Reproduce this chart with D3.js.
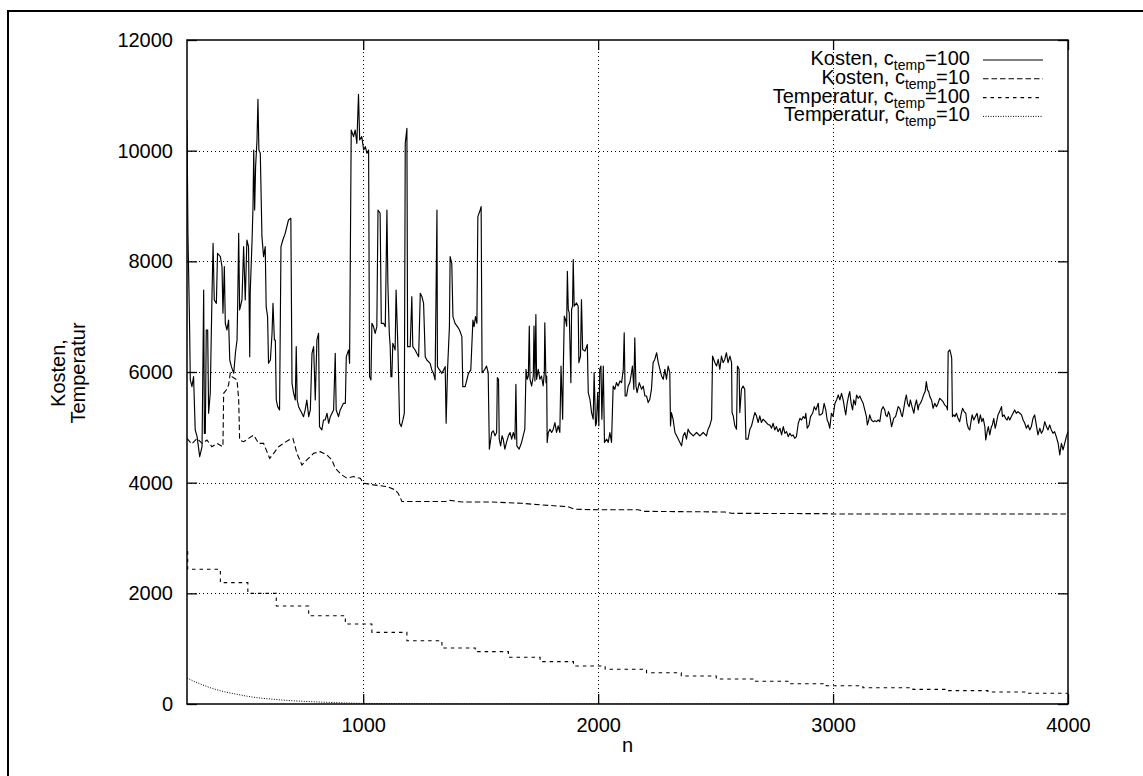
<!DOCTYPE html>
<html>
<head>
<meta charset="utf-8">
<script src="https://cdn.jsdelivr.net/npm/d3@7"></script>
<style>
  html, body { margin: 0; padding: 0; background: #fff; }
  svg { display: block; font-family: "Liberation Sans", Arial, Helvetica, sans-serif; }
</style>
</head>
<body>
<svg id="chart" width="1143" height="776"></svg>
<script>
// Kosten (cost) per iteration n, c_temp = 100  — [n, value]
const kostenC100 = [
  [250,10555],[254,8506],[257,7783],[261,6820],[264,5856],[271,5735],[278,5916],[285,4952],[293,4832],[304,4470],
  [314,4651],[321,7482],[324,4892],[328,4892],[332,6759],[338,6759],[342,5254],[349,5615],[356,7302],[361,8326],
  [366,7302],[375,7241],[380,8145],[392,8085],[399,7904],[403,7061],[409,7904],[413,6880],[420,6759],[427,6940],
  [432,6217],[439,6097],[449,5976],[456,6338],[463,6579],[466,7302],[470,8506],[474,7121],[484,7302],[491,8265],
  [498,7302],[505,8386],[512,8265],[517,6277],[519,7422],[527,8386],[531,8988],[534,10012],[538,8928],[542,9711],
  [548,10193],[552,10930],[556,10012],[562,9952],[569,8446],[576,8085],[583,8265],[587,7181],[593,7000],[597,6157],
  [605,6217],[612,6699],[616,7241],[622,6579],[626,6579],[630,5494],[636,5374],[644,5314],[650,8265],[658,8386],
  [668,8506],[682,8747],[692,8777],[697,5796],[704,5615],[711,5494],[715,6458],[719,5494],[725,5374],[739,5254],
  [746,5193],[753,5314],[760,5494],[768,5193],[775,5314],[782,6338],[789,6458],[796,5494],[803,6579],[810,6699],
  [814,5013],[824,4952],[831,5133],[838,5133],[846,5254],[853,5073],[860,5193],[867,5254],[874,5314],[881,6338],
  [885,5314],[895,5193],[902,5314],[909,5374],[916,5434],[924,5434],[928,6277],[938,6398],[942,6157],[949,10374],
  [959,10253],[966,10374],[973,10133],[980,11020],[985,10193],[994,10253],[1002,10012],[1009,10073],[1016,9952],[1023,10012],
  [1027,5916],[1033,5856],[1037,6880],[1044,6820],[1051,6699],[1058,6820],[1063,8928],[1072,8868],[1077,6880],[1087,6880],
  [1094,6820],[1101,8928],[1105,7603],[1111,6699],[1115,6458],[1118,5916],[1122,5916],[1126,6519],[1136,6398],[1140,7482],
  [1148,6398],[1155,5073],[1162,5013],[1169,5133],[1175,5254],[1179,10133],[1186,10404],[1189,6458],[1200,6458],[1207,7362],
  [1211,6458],[1221,6398],[1228,6338],[1236,6277],[1243,7422],[1250,7362],[1257,7241],[1264,6277],[1271,6217],[1285,6157],
  [1292,6037],[1299,5976],[1306,5856],[1314,8928],[1316,6097],[1325,6037],[1335,5976],[1342,6037],[1349,6097],[1353,5073],
  [1359,6037],[1367,6820],[1370,8085],[1377,7964],[1382,7000],[1391,6880],[1401,6820],[1410,6759],[1420,6639],[1424,5735],
  [1434,5735],[1448,5976],[1458,6037],[1467,6940],[1472,6820],[1478,7000],[1484,6880],[1488,8808],[1498,8928],[1502,8988],
  [1506,5988],[1518,6048],[1525,6108],[1532,5988],[1537,4606],[1547,4907],[1554,4937],[1561,4847],[1568,4907],[1571,5898],
  [1576,5868],[1579,4787],[1585,4666],[1591,4847],[1596,4787],[1603,4606],[1610,4727],[1618,4847],[1625,4907],[1632,4787],
  [1639,4907],[1646,4787],[1650,5778],[1654,4666],[1664,4606],[1674,4727],[1681,4847],[1688,4967],[1693,6048],[1698,5868],
  [1703,5928],[1707,6829],[1710,5868],[1717,5747],[1724,5928],[1727,6829],[1731,5838],[1735,7039],[1738,5868],[1745,6048],
  [1752,5868],[1759,5928],[1766,5747],[1771,5988],[1773,6889],[1778,5808],[1781,5928],[1783,4727],[1788,4907],[1795,4967],
  [1802,4907],[1809,4967],[1816,5087],[1823,4907],[1830,5027],[1837,4907],[1842,6108],[1849,5147],[1852,6108],[1856,7009],
  [1861,6949],[1866,6829],[1869,7820],[1873,7129],[1877,7069],[1883,5988],[1884,5808],[1887,7129],[1891,7189],[1894,8031],
  [1898,7189],[1908,7249],[1915,7189],[1918,6168],[1925,6288],[1929,7309],[1934,6408],[1944,6378],[1954,6498],[1958,5627],
  [1965,5507],[1972,5267],[1979,5147],[1983,5988],[1989,5027],[1993,5087],[1998,5627],[2003,5027],[2007,6048],[2012,6108],
  [2016,5147],[2022,6108],[2027,4727],[2036,4787],[2043,4727],[2050,4907],[2057,4727],[2064,5747],[2071,5687],[2078,5808],
  [2085,5747],[2093,5838],[2100,5808],[2107,6048],[2111,6709],[2115,5567],[2121,5567],[2128,5747],[2135,5808],[2142,5988],
  [2146,6108],[2152,5687],[2156,6618],[2161,5747],[2166,5627],[2175,5808],[2185,5687],[2192,5747],[2199,5567],[2206,5567],
  [2213,5447],[2220,5507],[2227,5687],[2234,6168],[2241,6228],[2249,6348],[2256,6168],[2263,6048],[2270,5928],[2277,5868],
  [2284,6048],[2291,5868],[2298,6108],[2305,5988],[2308,5027],[2312,5267],[2319,5147],[2327,4907],[2334,4847],[2341,4787],
  [2348,4727],[2355,4666],[2362,4847],[2369,4907],[2376,4787],[2383,4967],[2390,4907],[2405,4847],[2419,4907],[2433,4847],
  [2447,4907],[2461,4847],[2468,4967],[2475,5027],[2483,5147],[2487,6288],[2497,6168],[2504,6108],[2511,6228],[2518,6048],
  [2525,6288],[2532,6168],[2539,6228],[2546,6348],[2553,6168],[2561,6288],[2568,6168],[2570,5267],[2575,5207],[2582,5027],
  [2589,4967],[2593,6108],[2600,6048],[2603,5267],[2610,5687],[2617,5747],[2624,5687],[2629,4787],[2638,4787],[2646,4967],
  [2653,5027],[2660,5147],[2667,5267],[2674,5207],[2681,5087],[2688,5207],[2695,5087],[2702,5147],[2716,5087],[2724,5050],
  [2731,5043],[2738,4983],[2745,5073],[2752,4953],[2759,5013],[2766,4923],[2774,4983],[2781,4862],[2788,5013],[2795,4892],
  [2802,4923],[2809,4832],[2816,4892],[2823,4844],[2830,4862],[2837,4802],[2844,4832],[2852,5073],[2859,5163],[2866,5133],
  [2873,5194],[2880,5163],[2884,5254],[2890,4983],[2898,5043],[2904,5194],[2913,5254],[2920,5374],[2927,5314],[2937,5435],
  [2941,5224],[2947,5224],[2955,5254],[2962,5435],[2969,5314],[2975,5133],[2981,5073],[2986,4983],[2993,5254],[3000,5194],
  [3008,5435],[3015,5495],[3022,5585],[3029,5495],[3036,5615],[3043,5495],[3050,5314],[3054,5224],[3060,5435],[3067,5585],
  [3071,5645],[3077,5435],[3083,5314],[3088,5495],[3095,5405],[3100,5585],[3107,5525],[3114,5567],[3121,5495],[3128,5435],
  [3135,5314],[3142,5194],[3146,5043],[3152,5133],[3156,5224],[3163,5133],[3171,5103],[3178,5121],[3185,5103],[3192,5133],
  [3199,5103],[3206,5314],[3213,5374],[3220,5314],[3224,5224],[3230,5194],[3236,5284],[3241,5224],[3249,5013],[3253,5073],
  [3258,5163],[3266,5194],[3270,5254],[3277,5374],[3284,5344],[3291,5224],[3295,5194],[3301,5344],[3307,5495],[3312,5585],
  [3317,5435],[3324,5374],[3329,5495],[3336,5374],[3344,5254],[3348,5374],[3355,5495],[3362,5314],[3366,5405],[3372,5435],
  [3378,5495],[3383,5555],[3388,5615],[3392,5645],[3397,5826],[3402,5676],[3407,5645],[3412,5555],[3419,5495],[3426,5344],
  [3433,5435],[3440,5374],[3447,5435],[3454,5525],[3461,5495],[3468,5465],[3475,5405],[3483,5374],[3487,5314],[3490,6368],
  [3497,6398],[3501,6338],[3505,6248],[3508,5194],[3514,5224],[3519,5194],[3525,5254],[3532,5163],[3539,5103],[3546,5254],
  [3551,5344],[3558,5284],[3565,5254],[3570,5073],[3576,4983],[3582,4953],[3586,5073],[3592,5224],[3599,5133],[3606,5194],
  [3613,5254],[3620,5073],[3627,5224],[3633,5103],[3639,5163],[3646,5013],[3650,4772],[3656,4923],[3661,5013],[3667,4862],
  [3674,5013],[3678,5043],[3684,5163],[3690,4983],[3695,5073],[3702,5224],[3709,5284],[3717,5374],[3721,5194],[3728,5224],
  [3734,5163],[3741,5133],[3746,5194],[3752,5133],[3759,5194],[3766,5254],[3773,5314],[3780,5254],[3787,5284],[3795,5254],
  [3802,5224],[3809,5133],[3816,5073],[3823,4983],[3830,5043],[3837,4953],[3844,5013],[3851,5163],[3858,5224],[3865,5043],
  [3872,4862],[3880,4983],[3887,4892],[3894,4953],[3901,5103],[3908,5013],[3915,4953],[3922,5043],[3929,4953],[3936,4892],
  [3943,4923],[3950,4832],[3958,4712],[3965,4501],[3972,4712],[3979,4591],[3986,4712],[3993,4832],[4000,4923]
];

// Kosten, c_temp = 10
const kostenC10 = [
  [250,4800],[270,4700],[293,4800],[314,4710],[335,4770],[356,4650],[378,4710],[403,4650],[406,5615],[417,5675],
  [427,5765],[434,5975],[441,5915],[463,5855],[470,5500],[474,4770],[491,4740],[512,4800],[534,4860],[555,4710],
  [576,4710],[602,4440],[619,4530],[640,4650],[661,4710],[683,4770],[701,4800],[718,4530],[739,4320],[760,4410],
  [789,4530],[817,4560],[846,4500],[867,4410],[881,4260],[909,4140],[931,4080],[959,4110],[987,4080],[1002,3990],
  [1044,3960],[1101,3930],[1136,3870],[1150,3800],[1165,3660],[1352,3660],[1370,3680],[1420,3650],[1550,3650],[1675,3627],
  [1760,3597],[1870,3567],[1901,3520],[2000,3510],[2170,3510],[2197,3482],[2540,3470],[2567,3446],[2960,3440],[3003,3434],
  [4000,3434]
];

// Temperatur, c_temp = 100 (held constant between cooling steps)
const tempC100 = [
  [250,2750],[253,2434],[392,2193],[509,2000],[630,1771],[768,1596],[924,1446],[1037,1295],[1186,1144],[1335,1012],
  [1477,946],[1618,844],[1753,765],[1895,687],[2030,627],[2206,566],[2354,506],[2503,452],[2659,410],[2815,367],
  [2971,331],[3127,295],[3340,265],[3489,241],[3659,217],[3829,193],[4000,193]
];

// Temperatur, c_temp = 10
const tempC10 = [
  [250,470],[293,385],[335,315],[392,240],[463,175],[534,122],[619,85],[704,58],[817,35],[930,18],
  [1050,8],[1300,2],[1600,0],[4000,0]
];

const xTickValues = [1000, 2000, 3000, 4000];
const yTickValues = [0, 2000, 4000, 6000, 8000, 10000, 12000];
const xGridValues = [1000, 2000, 3000];
const yGridValues = [2000, 4000, 6000, 8000, 10000];
const xLabel = "n";
const yLabelLines = ["Kosten,", "Temperatur"];
const legendItems = [
  { pre: "Kosten, c",     sub: "temp", post: "=100" },
  { pre: "Kosten, c",     sub: "temp", post: "=10" },
  { pre: "Temperatur, c", sub: "temp", post: "=100" },
  { pre: "Temperatur, c", sub: "temp", post: "=10" }
];

// ---- layout ----
const plot = { left: 187, right: 1068, top: 40, bottom: 704 };
const svg = d3.select("#chart");

const x = d3.scaleLinear().domain([250, 4000]).range([plot.left, plot.right]);
const y = d3.scaleLinear().domain([0, 12000]).range([plot.bottom, plot.top]);

// page frame
svg.append("rect")
  .attr("x", 8).attr("y", 11).attr("width", 1200).attr("height", 900)
  .attr("fill", "none").attr("stroke", "#000").attr("stroke-width", 2);

// dotted grid
const grid = svg.append("g")
  .attr("stroke", "#000").attr("stroke-width", 1)
  .attr("stroke-dasharray", "1,3").attr("shape-rendering", "crispEdges");
grid.selectAll("line.gx").data(xGridValues).join("line")
  .attr("x1", d => Math.round(x(d)) + 0.5).attr("x2", d => Math.round(x(d)) + 0.5)
  .attr("y1", plot.top).attr("y2", plot.bottom);
grid.selectAll("line.gy").data(yGridValues).join("line")
  .attr("y1", d => Math.round(y(d)) + 0.5).attr("y2", d => Math.round(y(d)) + 0.5)
  .attr("x1", plot.left).attr("x2", plot.right);

// axes with inward ticks on all four sides
const tickLen = 10;
const fontSize = 20;

const gLeft = svg.append("g").attr("transform", `translate(${plot.left},0)`)
  .call(d3.axisLeft(y).tickValues(yTickValues).tickSize(-tickLen).tickPadding(14).tickFormat(d3.format("d")));
const gBottom = svg.append("g").attr("transform", `translate(0,${plot.bottom})`)
  .call(d3.axisBottom(x).tickValues(xTickValues).tickSize(-tickLen).tickPadding(14).tickFormat(d3.format("d")));
const gRight = svg.append("g").attr("transform", `translate(${plot.right},0)`)
  .call(d3.axisRight(y).tickValues(yTickValues).tickSize(-tickLen).tickFormat(""));
const gTop = svg.append("g").attr("transform", `translate(0,${plot.top})`)
  .call(d3.axisTop(x).tickValues(xTickValues).tickSize(-tickLen).tickFormat(""));

[gLeft, gBottom, gRight, gTop].forEach(g => {
  g.select(".domain").remove();
  g.selectAll(".tick line").attr("stroke", "#000").attr("stroke-width", 1.3);
  g.selectAll(".tick text").attr("fill", "#000")
    .style("font-family", '"Liberation Sans", Arial, sans-serif').style("font-size", fontSize + "px");
});

// data lines
svg.append("clipPath").attr("id", "plotClip").append("rect")
  .attr("x", plot.left).attr("y", plot.top)
  .attr("width", plot.right - plot.left).attr("height", plot.bottom - plot.top);

const line = d3.line().x(d => x(d[0])).y(d => y(d[1]));
const stepLine = d3.line().x(d => x(d[0])).y(d => y(d[1])).curve(d3.curveStepAfter);
const smoothLine = d3.line().x(d => x(d[0])).y(d => y(d[1])).curve(d3.curveMonotoneX);

const styles = [
  { dash: null,      width: 1.15 },
  { dash: "5.5,3",   width: 1.1 },
  { dash: "3.5,4",   width: 1.1 },
  { dash: "1,1.5",   width: 1.0 }
];

const gData = svg.append("g").attr("clip-path", "url(#plotClip)").attr("fill", "none").attr("stroke", "#000");
gData.append("path").attr("d", smoothLine(tempC10))
  .attr("stroke-width", styles[3].width).attr("stroke-dasharray", styles[3].dash);
gData.append("path").attr("d", stepLine(tempC100))
  .attr("stroke-width", styles[2].width).attr("stroke-dasharray", styles[2].dash);
gData.append("path").attr("d", line(kostenC10))
  .attr("stroke-width", styles[1].width).attr("stroke-dasharray", styles[1].dash);
gData.append("path").attr("d", line(kostenC100))
  .attr("stroke-width", styles[0].width).attr("stroke-linejoin", "round");

// plot border
svg.append("rect")
  .attr("x", plot.left).attr("y", plot.top)
  .attr("width", plot.right - plot.left).attr("height", plot.bottom - plot.top)
  .attr("fill", "none").attr("stroke", "#000").attr("stroke-width", 1.5);

// axis titles
svg.append("text")
  .attr("x", (plot.left + plot.right) / 2).attr("y", 752)
  .attr("text-anchor", "middle").attr("font-size", fontSize).attr("fill", "#000")
  .text(xLabel);

const yl = svg.append("text")
  .attr("transform", "translate(65,373) rotate(-90)")
  .attr("text-anchor", "middle").attr("font-size", fontSize).attr("fill", "#000");
yLabelLines.forEach((s, i) => {
  yl.append("tspan").attr("x", 0).attr("dy", i === 0 ? 0 : 20).text(s);
});

// legend: right-aligned labels with subscripts, line samples to the right
const legend = svg.append("g");
const legendTextRight = 970;
const legendBaseline0 = 65;
const legendRowStep = 18.8;
legendItems.forEach((item, i) => {
  const by = legendBaseline0 + i * legendRowStep;
  const t = legend.append("text")
    .attr("x", legendTextRight).attr("y", by)
    .attr("text-anchor", "end").attr("font-size", fontSize).attr("fill", "#000");
  t.append("tspan").text(item.pre);
  t.append("tspan").attr("font-size", 14).attr("dy", 5).text(item.sub);
  t.append("tspan").attr("font-size", fontSize).attr("dy", -5).text(item.post);
  legend.append("line")
    .attr("x1", 983).attr("x2", 1043)
    .attr("y1", by - 5).attr("y2", by - 5)
    .attr("stroke", "#000").attr("stroke-width", styles[i].width)
    .attr("stroke-dasharray", styles[i].dash);
});
</script>
</body>
</html>
